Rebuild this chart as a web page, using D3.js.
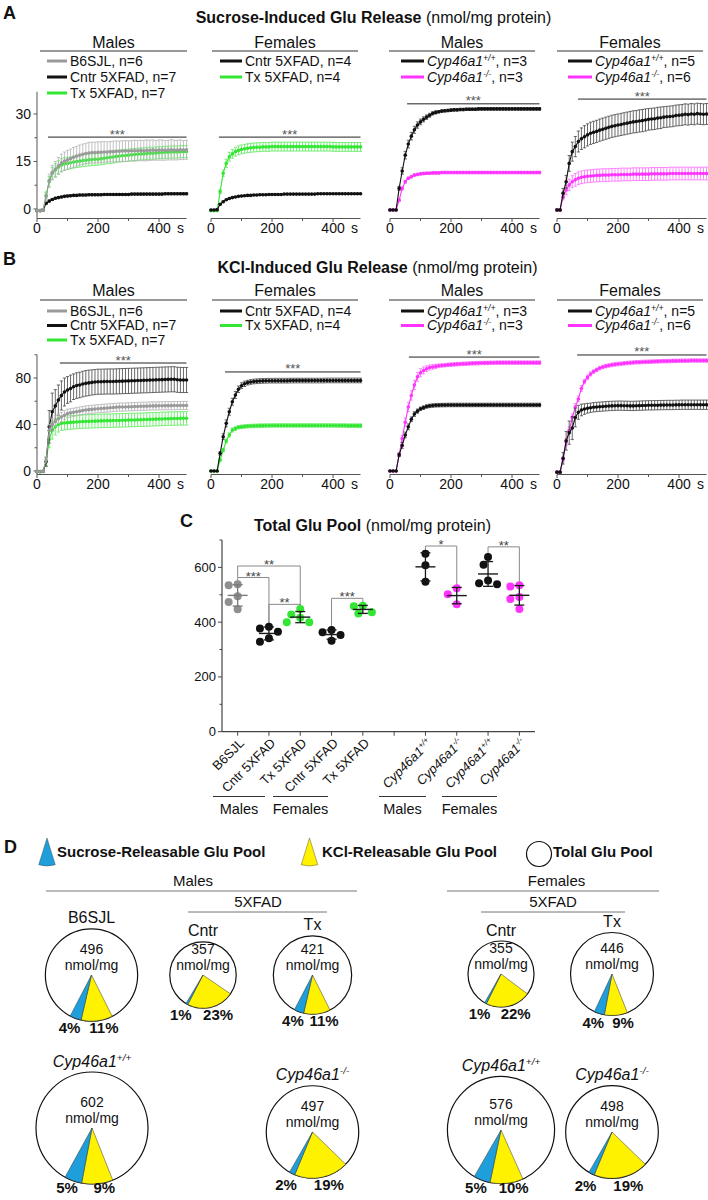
<!DOCTYPE html>
<html>
<head>
<meta charset="utf-8">
<script src="https://cdn.jsdelivr.net/npm/d3@7/dist/d3.min.js"></script>
<style>
html,body{margin:0;padding:0;background:#fff;}
svg{display:block;font-family:"Liberation Sans",Arial,sans-serif;}
</style>
</head>
<body>
<svg id="fig" width="708" height="1200"></svg>
<script>
// ================= DATA =================
const times = [0,10,20,30,40,50,60,70,80,90,
 100,110,120,130,140,150,160,170,180,190,
 200,210,220,230,240,250,260,270,280,290,
 300,310,320,330,340,350,360,370,380,390,
 400,410,420,430,440,450,460,470,480,490];

const xTicksMajor = [0,200,400];
const xTicksMinor = [100,300];

// ---- Panel A: Sucrose-induced release ----
const aYTicks = [0,15,30];
const aYMinor = [7.5,22.5];
const aM_B6 = [-0.5,-0.5,-0.3,4.0,9.0,11.5,12.5,13.6,14.5,15.1,
 15.5,15.9,16.3,16.7,17.0,17.3,17.5,17.7,17.8,17.8,
 17.9,17.9,18.0,18.0,18.1,18.1,18.2,18.2,18.3,18.3,
 18.3,18.4,18.4,18.4,18.5,18.4,18.5,18.5,18.6,18.5,
 18.6,18.6,18.5,18.6,18.7,18.6,18.6,18.7,18.6,18.7];
const aM_B6e = [0.3,0.3,0.4,1.2,2.0,2.3,2.5,2.7,2.8,2.9,
 3.0,3.0,3.1,3.1,3.2,3.2,3.2,3.3,3.3,3.3,
 3.3,3.3,3.3,3.2,3.2,3.3,3.3,3.2,3.2,3.3,
 3.2,3.2,3.3,3.2,3.2,3.2,3.3,3.2,3.2,3.1,
 3.2,3.2,3.1,3.1,3.2,3.1,3.1,3.1,3.0,3.0];
const aM_Cntr = [-0.5,-0.5,-0.3,1.8,2.5,3.0,3.4,3.6,3.8,4.0,
 4.1,4.2,4.3,4.3,4.4,4.4,4.4,4.5,4.5,4.5,
 4.5,4.5,4.6,4.6,4.6,4.6,4.6,4.6,4.6,4.6,
 4.6,4.7,4.7,4.7,4.7,4.7,4.7,4.7,4.7,4.7,
 4.7,4.7,4.8,4.8,4.8,4.8,4.8,4.8,4.8,4.8];
const aM_Cntre = [0.2,0.2,0.2,0.3,0.3,0.3,0.3,0.3,0.3,0.3,
 0.3,0.3,0.3,0.3,0.3,0.3,0.3,0.3,0.3,0.3,
 0.3,0.3,0.3,0.3,0.3,0.3,0.3,0.3,0.3,0.3,
 0.3,0.3,0.3,0.3,0.3,0.3,0.3,0.3,0.3,0.3,
 0.3,0.3,0.3,0.3,0.3,0.3,0.3,0.3,0.3,0.3];
const aM_Tx = [-0.5,-0.5,-0.3,4.4,8.6,11.3,12.3,13.2,13.9,14.2,
 14.4,14.6,14.8,15.0,15.1,15.3,15.4,15.5,15.6,15.7,
 15.7,15.9,16.0,16.2,16.3,16.4,16.6,16.7,16.8,16.9,
 17.0,17.1,17.2,17.3,17.4,17.4,17.5,17.6,17.6,17.7,
 17.8,17.8,17.9,17.9,18.0,18.0,18.0,18.1,18.1,18.1];
const aM_Txe = [0.3,0.3,0.4,1.0,1.6,1.9,2.0,2.0,2.0,2.0,
 1.9,1.9,1.9,1.9,1.9,1.9,1.9,1.9,1.9,1.9,
 1.9,1.9,1.9,1.9,1.9,1.9,1.9,1.9,1.9,1.9,
 1.9,1.9,1.9,1.9,1.9,1.9,1.9,1.9,1.9,1.9,
 1.9,1.9,1.9,1.9,1.9,1.9,1.9,1.9,1.9,1.9];
const aF_Cntr = [-0.3,-0.3,-0.2,1.5,2.3,2.9,3.3,3.6,3.8,4.0,
 4.1,4.2,4.3,4.3,4.4,4.4,4.5,4.5,4.5,4.6,
 4.6,4.6,4.6,4.6,4.7,4.7,4.7,4.7,4.7,4.7,
 4.7,4.7,4.7,4.7,4.7,4.8,4.8,4.8,4.8,4.8,
 4.8,4.8,4.8,4.8,4.8,4.8,4.8,4.8,4.8,4.8];
const aF_Cntre = [0.2,0.2,0.2,0.2,0.2,0.2,0.2,0.2,0.2,0.2,
 0.2,0.2,0.2,0.2,0.2,0.2,0.2,0.2,0.2,0.2,
 0.2,0.2,0.2,0.2,0.2,0.2,0.2,0.2,0.2,0.2,
 0.2,0.2,0.2,0.2,0.2,0.2,0.2,0.2,0.2,0.2,
 0.2,0.2,0.2,0.2,0.2,0.2,0.2,0.2,0.2,0.2];
const aF_Tx = [-0.5,-0.5,-0.5,5.5,11.3,14.4,16.5,17.4,18.1,18.5,
 18.8,19.0,19.2,19.3,19.4,19.5,19.5,19.6,19.6,19.6,
 19.7,19.7,19.7,19.7,19.7,19.7,19.7,19.7,19.7,19.7,
 19.7,19.7,19.7,19.7,19.7,19.7,19.7,19.7,19.7,19.7,
 19.6,19.6,19.6,19.6,19.6,19.6,19.6,19.6,19.6,19.6];
const aF_Txe = [0.2,0.2,0.2,0.6,1.0,1.3,1.4,1.4,1.4,1.4,
 1.4,1.4,1.4,1.4,1.4,1.4,1.4,1.4,1.4,1.4,
 1.4,1.4,1.4,1.4,1.4,1.4,1.4,1.4,1.4,1.4,
 1.4,1.4,1.4,1.4,1.4,1.4,1.4,1.4,1.4,1.4,
 1.4,1.4,1.4,1.4,1.4,1.4,1.4,1.4,1.4,1.4];
const aM_WT = [-0.3,-0.3,-0.3,6.5,12.0,17.0,20.5,23.0,25.0,26.5,
 27.5,28.3,29.0,29.6,30.2,30.5,30.7,30.9,31.0,31.1,
 31.2,31.3,31.3,31.4,31.4,31.5,31.5,31.5,31.5,31.6,
 31.6,31.6,31.6,31.6,31.6,31.6,31.6,31.6,31.6,31.6,
 31.6,31.6,31.6,31.6,31.6,31.6,31.6,31.6,31.6,31.6];
const aM_WTe = [0.2,0.2,0.2,0.6,1.0,1.2,1.2,1.2,1.1,1.0,
 0.9,0.8,0.7,0.6,0.5,0.5,0.4,0.4,0.4,0.4,
 0.4,0.4,0.4,0.4,0.4,0.4,0.4,0.4,0.4,0.4,
 0.4,0.4,0.4,0.4,0.4,0.4,0.4,0.4,0.4,0.4,
 0.4,0.4,0.4,0.4,0.4,0.4,0.4,0.4,0.4,0.4];
const aM_KO = [-0.3,-0.3,-0.3,2.8,6.5,8.6,9.7,10.2,10.7,10.9,
 11.1,11.2,11.3,11.3,11.4,11.4,11.4,11.5,11.5,11.5,
 11.5,11.5,11.5,11.5,11.5,11.5,11.5,11.5,11.5,11.5,
 11.5,11.5,11.5,11.5,11.5,11.5,11.5,11.5,11.5,11.5,
 11.5,11.5,11.5,11.5,11.5,11.5,11.5,11.5,11.5,11.5];
const aM_KOe = [0.2,0.2,0.2,0.4,0.5,0.5,0.4,0.4,0.4,0.4,
 0.4,0.4,0.4,0.4,0.4,0.4,0.4,0.4,0.4,0.4,
 0.4,0.4,0.4,0.4,0.4,0.4,0.4,0.4,0.4,0.4,
 0.4,0.4,0.4,0.4,0.4,0.4,0.4,0.4,0.4,0.4,
 0.4,0.4,0.4,0.4,0.4,0.4,0.4,0.4,0.4,0.4];
const aF_WT = [-0.3,-0.3,5.0,8.6,14.4,18.1,19.7,21.3,22.2,22.8,
 23.4,23.9,24.2,24.5,24.9,25.2,25.5,25.8,26.1,26.3,
 26.5,26.7,26.9,27.1,27.3,27.5,27.6,27.8,27.9,28.1,
 28.3,28.4,28.5,28.7,28.8,29.0,29.1,29.2,29.3,29.5,
 29.6,29.7,29.9,29.8,30.0,29.9,30.1,30.0,29.9,30.0];
const aF_WTe = [0.3,0.3,1.5,2.0,2.5,3.0,3.2,3.3,3.4,3.5,
 3.5,3.5,3.5,3.5,3.5,3.5,3.5,3.5,3.5,3.5,
 3.5,3.5,3.5,3.5,3.5,3.5,3.5,3.5,3.5,3.5,
 3.4,3.4,3.4,3.4,3.4,3.3,3.3,3.3,3.3,3.3,
 3.3,3.3,3.3,3.3,3.3,3.3,3.3,3.3,3.3,3.3];
const aF_KO = [-0.3,-0.3,3.9,6.0,7.6,8.6,9.2,9.7,10.0,10.2,
 10.3,10.4,10.5,10.6,10.6,10.7,10.7,10.7,10.8,10.8,
 10.8,10.9,10.9,10.9,10.9,11.0,11.0,11.0,11.0,11.0,
 11.0,11.1,11.1,11.1,11.1,11.1,11.1,11.2,11.2,11.2,
 11.2,11.2,11.2,11.2,11.2,11.2,11.2,11.2,11.2,11.2];
const aF_KOe = [0.3,0.3,1.0,1.5,1.8,1.9,2.0,2.0,2.0,2.0,
 2.0,2.0,2.0,2.0,2.0,2.0,2.0,2.0,2.0,2.0,
 2.0,2.0,2.0,2.0,2.0,2.0,2.0,2.0,2.0,2.0,
 2.0,2.0,2.0,2.0,2.0,2.0,2.0,2.0,2.0,2.0,
 2.0,2.0,2.0,2.0,2.0,2.0,2.0,2.0,2.0,2.0];

// ---- Panel B: KCl-induced release ----
const bYTicks = [0,40,80];
const bYMinor = [20,60,100];
const bM_B6 = [-0.5,-0.5,-0.3,9.5,35.0,40.0,43.0,45.0,46.5,48.0,
 49.5,50.0,50.5,51.0,51.5,52.0,52.5,52.8,53.0,53.3,
 53.6,53.8,54.0,54.2,54.4,54.6,54.8,55.0,55.0,55.1,
 55.2,55.3,55.4,55.5,55.6,55.7,55.8,55.9,56.0,56.0,
 56.1,56.1,56.2,56.2,56.2,56.3,56.3,56.3,56.4,56.4];
const bM_B6e = [0.3,0.3,0.4,2.0,5.0,5.0,4.5,4.2,4.0,3.8,
 3.7,3.6,3.5,3.5,3.5,3.5,3.5,3.5,3.5,3.5,
 3.5,3.5,3.5,3.5,3.5,3.5,3.5,3.5,3.5,3.5,
 3.5,3.5,3.5,3.5,3.5,3.5,3.5,3.5,3.5,3.5,
 3.5,3.5,3.5,3.5,3.5,3.5,3.5,3.5,3.5,3.5];
const bM_Cntr = [-0.5,-0.5,-0.3,8.0,38.0,51.0,56.0,61.0,65.0,68.0,
 69.7,71.0,72.5,73.5,74.0,74.8,75.4,75.8,76.2,76.5,
 76.8,76.8,76.9,77.0,77.0,77.0,77.1,77.2,77.3,77.4,
 77.5,77.6,77.7,77.8,77.9,78.0,78.1,78.2,78.3,78.4,
 78.5,78.6,78.7,78.8,78.9,78.9,78.5,78.3,78.3,78.3];
const bM_Cntre = [0.3,0.3,0.5,4.0,14.0,16.0,14.0,13.0,12.5,12.0,
 11.5,11.5,11.0,11.0,11.0,11.0,11.0,11.0,10.8,10.8,
 10.8,10.8,10.8,10.8,10.8,10.8,10.8,10.8,10.8,10.8,
 10.8,10.8,10.8,10.8,10.8,10.8,10.8,10.8,10.8,10.8,
 10.8,10.8,10.8,10.8,10.8,10.8,10.8,10.8,10.8,10.8];
const bM_Tx = [-0.5,-0.5,-0.3,8.0,27.0,35.0,38.0,40.0,41.0,41.3,
 41.6,41.8,42.0,42.2,42.4,42.5,42.6,42.7,42.8,42.9,
 43.0,43.1,43.2,43.3,43.3,43.4,43.5,43.5,43.6,43.7,
 43.8,43.9,43.9,44.0,44.1,44.2,44.3,44.4,44.5,44.6,
 44.7,44.8,44.9,45.0,45.1,45.2,45.2,45.3,45.3,45.3];
const bM_Txe = [0.3,0.3,0.4,3.0,7.0,7.5,7.0,6.5,6.0,6.0,
 5.8,5.8,5.8,5.8,5.8,5.8,5.8,5.8,5.8,5.8,
 5.8,5.8,5.8,5.8,5.8,5.8,5.8,5.8,5.8,5.8,
 5.8,5.8,5.8,5.8,5.8,5.8,5.8,5.8,5.8,5.8,
 5.8,5.8,5.8,5.8,5.8,5.8,5.8,5.8,5.8,5.8];
const bF_Cntr = [0,0,0,15.2,29.5,41.0,51.0,59.6,65.4,70.3,
 73.4,75.0,76.0,76.6,77.0,77.2,77.4,77.5,77.6,77.7,
 77.7,77.7,77.7,77.7,77.7,77.7,77.8,77.8,77.8,77.8,
 77.8,77.8,77.8,77.8,77.8,77.8,77.8,77.8,77.9,77.9,
 77.9,77.9,77.9,77.9,77.9,77.9,77.9,77.9,77.9,77.9];
const bF_Cntre = [0.3,0.3,0.3,1.5,2.5,3.0,3.0,3.0,3.0,2.8,
 2.5,2.3,2.0,2.0,2.0,2.0,2.0,2.0,2.0,2.0,
 2.0,2.0,2.0,2.0,2.0,2.0,2.0,2.0,2.0,2.0,
 2.0,2.0,2.0,2.0,2.0,2.0,2.0,2.0,2.0,2.0,
 2.0,2.0,2.0,2.0,2.0,2.0,2.0,2.0,2.0,2.0];
const bF_Tx = [0,0,0,9.5,18.0,25.8,31.0,35.3,36.5,37.6,
 38.0,38.3,38.5,38.7,38.8,38.9,39.0,39.0,39.1,39.1,
 39.2,39.2,39.2,39.2,39.2,39.2,39.2,39.2,39.2,39.2,
 39.2,39.2,39.2,39.2,39.2,39.2,39.2,39.2,39.2,39.2,
 39.2,39.2,39.1,39.1,39.1,39.0,39.0,39.0,39.0,39.0];
const bF_Txe = [0.3,0.3,0.3,1.0,1.5,1.8,1.8,1.8,1.6,1.5,
 1.5,1.5,1.5,1.5,1.5,1.5,1.5,1.5,1.5,1.5,
 1.5,1.5,1.5,1.5,1.5,1.5,1.5,1.5,1.5,1.5,
 1.5,1.5,1.5,1.5,1.5,1.5,1.5,1.5,1.5,1.5,
 1.5,1.5,1.5,1.5,1.5,1.5,1.5,1.5,1.5,1.5];
const bM_WT = [0,0,0,14.0,22.0,31.0,38.0,44.5,49.0,51.5,
 53.5,54.5,55.5,56.0,56.3,56.5,56.6,56.7,56.7,56.8,
 56.8,56.8,56.8,56.8,56.8,56.8,56.8,56.8,56.8,56.8,
 56.8,56.8,56.8,56.8,56.8,56.8,56.8,56.8,56.8,56.8,
 56.8,56.8,56.8,56.8,56.8,56.8,56.8,56.8,56.8,56.8];
const bM_WTe = [0.3,0.3,0.3,1.5,2.5,2.5,2.5,2.0,2.0,1.8,
 1.5,1.5,1.5,1.5,1.5,1.5,1.5,1.5,1.5,1.5,
 1.5,1.5,1.5,1.5,1.5,1.5,1.5,1.5,1.5,1.5,
 1.5,1.5,1.5,1.5,1.5,1.5,1.5,1.5,1.5,1.5,
 1.5,1.5,1.5,1.5,1.5,1.5,1.5,1.5,1.5,1.5];
const bM_KO = [0,0,0,14.0,28.0,42.0,55.0,65.0,74.0,81.0,
 84.5,86.5,88.0,89.0,89.5,90.0,90.5,90.8,91.0,91.3,
 91.5,91.7,91.9,92.0,92.2,92.3,92.5,92.6,92.7,92.8,
 92.9,93.0,93.0,93.1,93.1,93.2,93.2,93.2,93.2,93.2,
 93.2,93.2,93.2,93.2,93.2,93.2,93.2,93.2,93.2,93.2];
const bM_KOe = [0.3,0.3,0.3,1.5,2.5,3.5,4.0,4.0,4.0,3.8,
 3.5,3.0,2.5,2.2,2.0,1.8,1.6,1.5,1.5,1.5,
 1.5,1.5,1.5,1.5,1.5,1.5,1.5,1.5,1.5,1.5,
 1.5,1.5,1.5,1.5,1.5,1.5,1.5,1.5,1.5,1.5,
 1.5,1.5,1.5,1.5,1.5,1.5,1.5,1.5,1.5,1.5];
const bF_WT = [-1,-1,11.0,26.0,33.0,37.0,46.0,50.5,52.5,53.3,
 54.0,54.4,54.8,55.1,55.3,55.5,55.7,55.9,56.0,56.1,
 56.2,56.2,56.1,56.1,56.0,56.0,56.1,56.2,56.3,56.4,
 56.5,56.5,56.6,56.6,56.7,56.7,56.8,56.8,56.8,56.9,
 56.9,57.0,57.0,57.0,57.0,57.0,57.0,57.0,57.0,57.0];
const bF_WTe = [0.5,0.5,5.0,8.0,10.0,10.0,8.0,6.0,5.0,4.5,
 4.2,4.0,4.0,4.0,4.0,4.0,4.0,4.0,4.0,4.0,
 4.0,4.0,4.0,4.0,4.0,4.0,4.0,4.0,4.0,4.0,
 4.0,4.0,4.0,4.0,4.0,4.0,4.0,4.0,4.0,4.0,
 4.0,4.0,4.0,4.0,4.0,4.0,4.0,4.0,4.0,4.0];
const bF_KO = [-1,-1,10.0,25.0,35.0,46.0,55.0,62.0,71.0,77.0,
 80.5,83.5,85.5,87.0,88.5,89.5,90.2,90.8,91.3,91.7,
 92.0,92.3,92.6,92.9,93.1,93.3,93.5,93.6,93.8,93.9,
 94.0,94.1,94.2,94.3,94.4,94.5,94.5,94.6,94.7,94.7,
 94.8,94.8,94.9,94.9,95.0,95.0,95.0,95.0,95.0,95.0];
const bF_KOe = [0.5,0.5,2.0,3.0,3.0,3.0,3.0,2.5,2.5,2.0,
 2.0,1.8,1.5,1.5,1.5,1.5,1.5,1.5,1.5,1.5,
 1.5,1.5,1.5,1.5,1.5,1.5,1.5,1.5,1.5,1.5,
 1.5,1.5,1.5,1.5,1.5,1.5,1.5,1.5,1.5,1.5,
 1.5,1.5,1.5,1.5,1.5,1.5,1.5,1.5,1.5,1.5];

// significance bars (start time, level in data units)
const aSigStart = [36, 26, 56, 69];
const aSigLevel = [22.7, 22.7, 33.2, 34.7];
const bSigStart = [75, 46, 62, 66];
const bSigLevel = [92.9, 85.2, 98.0, 99.8];

// ---- Panel C: total Glu pool ----
const cCategories = ["B6SJL","Cntr 5XFAD","Tx 5XFAD","Cntr 5XFAD","Tx 5XFAD","","Cyp46a1+/+","Cyp46a1-/-","Cyp46a1+/+","Cyp46a1-/-"];
const cValues = [
 [538,535,495,474,447],
 [383,377,365,328,341],
 [416,428,448,400,400],
 [353,363,371,332],
 [458,460,432,436],
 [],
 [608,650,548],
 [524,502,465],
 [610,638,552,542,538],
 [535,530,485,492,448]];
const cYTicks = [0,200,400,600];
const cYMinor = [100,300,500,700];
const cSigFrom = [0,0,1,3,6,8];
const cSigTo = [1,2,2,4,7,9];
const cSigTop = [563,605,465,487,678,675];
const cSigLeftEnd = [533,565,389,371,657,645];
const cSigRightEnd = [397,459,448,470,529,543];
const cSigLabel = ["***","**","**","***","*","**"];
const cGroupLabels = ["Males","Females","Males","Females"];

// ---- Panel D: pools ----
const pieLabels = ["B6SJL","Cntr","Tx","Cntr","Tx","Cyp46a1+/+","Cyp46a1-/-","Cyp46a1+/+","Cyp46a1-/-"];
const pieTotals = [496,357,421,355,446,602,497,576,498];
const pieSucrosePct = [4,1,4,1,4,5,2,5,2];
const pieKClPct = [11,23,11,22,9,9,19,10,19];

// ================= STYLE / LAYOUT =================
const COL = {gray:"#9a9a9a", black:"#111111", green:"#33e633", magenta:"#ff33ff"};
const ECOL = {gray:"#b4b4b4", black:"#444444", green:"#5bea5b", magenta:"#ff6bff"};
const DOTCOL = {gray:"#8f8f8f", black:"#111111", green:"#33e633", magenta:"#ff33ff"};
const cColorKeys = ["gray","black","green","black","green",null,"black","magenta","black","magenta"];

const svg = d3.select("#fig");

function rich(t, label, fs) {
  const m = label.match(/^(Cyp46a1)([+\-]\/[+\-])(.*)$/);
  if (!m) { t.text(label); return; }
  t.append("tspan").attr("font-style","italic").text(m[1]);
  t.append("tspan").attr("font-style","italic").attr("font-size", fs*0.62).attr("dy", -fs*0.38).text(m[2]);
  if (m[3]) t.append("tspan").attr("dy", fs*0.38).text(m[3]);
}
function text(x, y, str, opts) {
  opts = opts || {};
  const fs = opts.fs || 14;
  const t = svg.append("text").attr("x", x).attr("y", y + fs*0.35)
    .attr("font-size", fs).attr("text-anchor", opts.anchor || "middle")
    .attr("fill", opts.fill || "#111");
  if (opts.bold) t.attr("font-weight","bold");
  rich(t, str, fs);
  return t;
}
function hline(x1, x2, y, color, w) {
  svg.append("line").attr("x1",x1).attr("x2",x2).attr("y1",y).attr("y2",y)
    .attr("stroke", color || "#222").attr("stroke-width", w || 1);
}
function title(cx, cy, bold, normal) {
  const t = svg.append("text").attr("x", cx).attr("y", cy + 5.6).attr("text-anchor","middle")
    .attr("font-size", 16).attr("fill","#111");
  t.append("tspan").attr("font-weight","bold").text(bold);
  t.append("tspan").text(normal);
}

// panel letters
text(3, 12.5, "A", {fs:18, bold:true, anchor:"start"});
text(3, 259, "B", {fs:18, bold:true, anchor:"start"});
text(180, 521, "C", {fs:18, bold:true, anchor:"start"});
text(4, 847, "D", {fs:18, bold:true, anchor:"start"});

// ========== time-course panels ==========
const subX0 = [37, 211, 390, 557];
const subW = 149.5;
const headerX1 = [40, 212, 389, 557];
const headerX2 = [187, 358, 535, 703];
const headerText = ["Males","Females","Males","Females"];
const legLineX = [[47,67],[220,242],[401,424],[568,592]];
const legTextX = [70, 245, 427, 595];

function drawTimePanel(cfg) {
  title(cfg.titleX, cfg.titleY, cfg.titleBold, cfg.titleNormal);
  const y = d3.scaleLinear().domain(cfg.yDomain).range(cfg.yRange);
  const axY = cfg.yRange[0];
  cfg.subs.forEach((sub, i) => {
    const x0 = subX0[i];
    const x = d3.scaleLinear().domain([0, 490]).range([x0, x0 + subW]);
    text((headerX1[i]+headerX2[i])/2, cfg.headerY, headerText[i], {fs:16});
    hline(headerX1[i], headerX2[i], cfg.ulY, "#333", 1.1);
    sub.series.forEach((s, j) => {
      const ly = cfg.legY[j];
      svg.append("line").attr("x1", legLineX[i][0]).attr("x2", legLineX[i][1])
        .attr("y1", ly).attr("y2", ly).attr("stroke", COL[s.color]).attr("stroke-width", 3);
      text(legTextX[i], ly, s.label, {fs:14, anchor:"start"});
    });
    const gx = svg.append("g").attr("transform", `translate(0,${axY})`);
    gx.append("line").attr("x1", x0).attr("x2", x0 + subW).attr("stroke","#555").attr("stroke-width",1);
    xTicksMajor.forEach(v => {
      gx.append("line").attr("x1", x(v)).attr("x2", x(v)).attr("y1",0).attr("y2",3.5).attr("stroke","#555");
      gx.append("text").attr("x", x(v)).attr("y", 14.5).attr("text-anchor","middle").attr("font-size",14).attr("fill","#111").text(v);
    });
    xTicksMinor.forEach(v => {
      gx.append("line").attr("x1", x(v)).attr("x2", x(v)).attr("y1",0).attr("y2",2.5).attr("stroke","#555");
    });
    gx.append("text").attr("x", x0 + 143.5).attr("y", 14.5).attr("text-anchor","middle").attr("font-size",14).attr("fill","#111").text("s");
    if (i === 0) {
      const gy = svg.append("g");
      gy.append("line").attr("x1", x0).attr("x2", x0).attr("y1", cfg.yRange[0]).attr("y2", cfg.yRange[1]).attr("stroke","#555");
      cfg.yTicks.forEach(v => {
        gy.append("line").attr("x1", x0-3.5).attr("x2", x0).attr("y1", y(v)).attr("y2", y(v)).attr("stroke","#555");
        gy.append("text").attr("x", x0-6).attr("y", y(v)+5).attr("text-anchor","end").attr("font-size",14).attr("fill","#111").text(v);
      });
      cfg.yMinor.forEach(v => {
        gy.append("line").attr("x1", x0-2.5).attr("x2", x0).attr("y1", y(v)).attr("y2", y(v)).attr("stroke","#555");
      });
    }
    const sy = y(cfg.sigLevel[i]);
    hline(x(cfg.sigStart[i]), x0 + subW, sy, "#222", 1);
    svg.append("text").attr("x", (x(cfg.sigStart[i]) + x0 + subW)/2).attr("y", sy + 1.5)
      .attr("text-anchor","middle").attr("font-size",13).attr("fill","#555").text("***");
    sub.series.slice().reverse().forEach(s => {
      const g = svg.append("g");
      const ec = ECOL[s.color];
      s.vals.forEach((v, k) => {
        const e = s.errs[k];
        const xx = x(times[k]);
        g.append("line").attr("x1",xx).attr("x2",xx).attr("y1",y(v-e)).attr("y2",y(v+e)).attr("stroke",ec).attr("stroke-width",0.8);
        g.append("line").attr("x1",xx-1.6).attr("x2",xx+1.6).attr("y1",y(v+e)).attr("y2",y(v+e)).attr("stroke",ec).attr("stroke-width",0.8);
        g.append("line").attr("x1",xx-1.6).attr("x2",xx+1.6).attr("y1",y(v-e)).attr("y2",y(v-e)).attr("stroke",ec).attr("stroke-width",0.8);
      });
      g.append("path").datum(s.vals)
        .attr("d", d3.line().x((d,k) => x(times[k])).y(d => y(d)))
        .attr("fill","none").attr("stroke", COL[s.color]).attr("stroke-width", 1.1);
      g.selectAll("circle").data(s.vals).join("circle")
        .attr("cx", (d,k) => x(times[k])).attr("cy", d => y(d)).attr("r", 1.8)
        .attr("fill", COL[s.color]);
    });
  });
}

drawTimePanel({
  titleX: 373.5, titleY: 17.5, titleBold: "Sucrose-Induced Glu Release", titleNormal: " (nmol/mg protein)",
  headerY: 42, ulY: 51, legY: [61, 77, 93],
  yDomain: [-3, 37], yRange: [218.5, 91.8], yTicks: aYTicks, yMinor: aYMinor,
  sigStart: aSigStart, sigLevel: aSigLevel,
  subs: [
    {series: [
      {label:"B6SJL, n=6", vals:aM_B6, errs:aM_B6e, color:"gray"},
      {label:"Cntr 5XFAD, n=7", vals:aM_Cntr, errs:aM_Cntre, color:"black"},
      {label:"Tx 5XFAD, n=7", vals:aM_Tx, errs:aM_Txe, color:"green"}]},
    {series: [
      {label:"Cntr 5XFAD, n=4", vals:aF_Cntr, errs:aF_Cntre, color:"black"},
      {label:"Tx 5XFAD, n=4", vals:aF_Tx, errs:aF_Txe, color:"green"}]},
    {series: [
      {label:"Cyp46a1+/+, n=3", vals:aM_WT, errs:aM_WTe, color:"black"},
      {label:"Cyp46a1-/-, n=3", vals:aM_KO, errs:aM_KOe, color:"magenta"}]},
    {series: [
      {label:"Cyp46a1+/+, n=5", vals:aF_WT, errs:aF_WTe, color:"black"},
      {label:"Cyp46a1-/-, n=6", vals:aF_KO, errs:aF_KOe, color:"magenta"}]}
  ]
});

drawTimePanel({
  titleX: 377.5, titleY: 267, titleBold: "KCl-Induced Glu Release", titleNormal: " (nmol/mg protein)",
  headerY: 290, ulY: 300, legY: [311, 325.5, 340],
  yDomain: [-3, 100], yRange: [474.5, 354.75], yTicks: bYTicks, yMinor: bYMinor,
  sigStart: bSigStart, sigLevel: bSigLevel,
  subs: [
    {series: [
      {label:"B6SJL, n=6", vals:bM_B6, errs:bM_B6e, color:"gray"},
      {label:"Cntr 5XFAD, n=7", vals:bM_Cntr, errs:bM_Cntre, color:"black"},
      {label:"Tx 5XFAD, n=7", vals:bM_Tx, errs:bM_Txe, color:"green"}]},
    {series: [
      {label:"Cntr 5XFAD, n=4", vals:bF_Cntr, errs:bF_Cntre, color:"black"},
      {label:"Tx 5XFAD, n=4", vals:bF_Tx, errs:bF_Txe, color:"green"}]},
    {series: [
      {label:"Cyp46a1+/+, n=3", vals:bM_WT, errs:bM_WTe, color:"black"},
      {label:"Cyp46a1-/-, n=3", vals:bM_KO, errs:bM_KOe, color:"magenta"}]},
    {series: [
      {label:"Cyp46a1+/+, n=5", vals:bF_WT, errs:bF_WTe, color:"black"},
      {label:"Cyp46a1-/-, n=6", vals:bF_KO, errs:bF_KOe, color:"magenta"}]}
  ]
});

// ========== Panel C ==========
(function(){
  title(372.5, 525, "Total Glu Pool", " (nmol/mg protein)");
  const x = d3.scalePoint().domain(cCategories.map((d,i)=>i)).range([222, 535]).padding(0.5);
  const y = d3.scaleLinear().domain([0, 700]).range([731.7, 540]);
  const ax = "#444";
  svg.append("line").attr("x1",222).attr("x2",222).attr("y1",y(0)).attr("y2",y(700)).attr("stroke",ax).attr("stroke-width",1.2);
  svg.append("line").attr("x1",222).attr("x2",535).attr("y1",y(0)).attr("y2",y(0)).attr("stroke",ax).attr("stroke-width",1.2);
  cYTicks.forEach(v => {
    svg.append("line").attr("x1",218).attr("x2",222).attr("y1",y(v)).attr("y2",y(v)).attr("stroke",ax);
    svg.append("text").attr("x",216).attr("y",y(v)+4.5).attr("text-anchor","end").attr("font-size",13).attr("fill","#111").text(v);
  });
  cYMinor.forEach(v => {
    svg.append("line").attr("x1",219.5).attr("x2",222).attr("y1",y(v)).attr("y2",y(v)).attr("stroke",ax);
  });
  cCategories.forEach((c, i) => {
    const xx = x(i);
    svg.append("line").attr("x1",xx).attr("x2",xx).attr("y1",y(0)).attr("y2",y(0)+4).attr("stroke",ax);
    if (!c) return;
    const t = svg.append("text").attr("transform",`translate(${xx+4},${y(0)+9}) rotate(-45)`)
      .attr("text-anchor","end").attr("font-size",13).attr("fill","#111").attr("dy","0.35em");
    rich(t, c, 13);
  });
  const gx1 = [213, 273, 379, 442], gx2 = [265, 328, 426, 497];
  cGroupLabels.forEach((g, i) => {
    hline(gx1[i], gx2[i], 796.5, "#333", 1);
    text((gx1[i]+gx2[i])/2, 808.5, g, {fs:14.5});
  });
  cSigLabel.forEach((lab, i) => {
    const xa = x(cSigFrom[i]), xb = x(cSigTo[i]), yt = y(cSigTop[i]);
    svg.append("path").attr("d", `M${xa},${y(cSigLeftEnd[i])}V${yt}H${xb}V${y(cSigRightEnd[i])}`)
      .attr("fill","none").attr("stroke","#8a8a8a").attr("stroke-width",1);
    svg.append("text").attr("x",(xa+xb)/2).attr("y", yt+3).attr("text-anchor","middle")
      .attr("font-size",13).attr("fill","#444").text(lab);
  });
  const R = 4;
  cValues.forEach((vals, i) => {
    if (!vals.length) return;
    const cx = x(i);
    const key = cColorKeys[i];
    const m = d3.mean(vals), sd = d3.deviation(vals);
    const wc = key === "gray" ? "#7a7a7a" : "#1a1a1a";
    const order = vals.map((v,k)=>k).sort((a,b)=>vals[b]-vals[a]);
    const placed = [];
    const pos = [];
    const offs = [0,-1,1,-2,2,-3,3];
    order.forEach(k => {
      const yy = y(vals[k]);
      for (const o of offs) {
        const xx = cx + o*4.5;
        if (placed.every(p => Math.hypot(p[0]-xx, p[1]-yy) >= 2*R+0.3)) { placed.push([xx,yy]); pos[k]=[xx,yy]; break; }
      }
      if (!pos[k]) { pos[k] = [cx, yy]; }
    });
    svg.append("g").selectAll("circle").data(pos).join("circle")
      .attr("cx", d=>d[0]).attr("cy", d=>d[1]).attr("r", R).attr("fill", DOTCOL[key]);
    svg.append("line").attr("x1",cx).attr("x2",cx).attr("y1",y(m-sd)).attr("y2",y(m+sd)).attr("stroke",wc).attr("stroke-width",1.3);
    [m-sd, m+sd].forEach(v => svg.append("line").attr("x1",cx-5).attr("x2",cx+5).attr("y1",y(v)).attr("y2",y(v)).attr("stroke",wc).attr("stroke-width",1.3));
    svg.append("line").attr("x1",cx-10).attr("x2",cx+10).attr("y1",y(m)).attr("y2",y(m)).attr("stroke",wc).attr("stroke-width",1.4);
  });
})();

// ========== Panel D ==========
(function(){
  const BLUE = "#1e9fdc", YEL = "#fff200";
  const cone = d3.arc().innerRadius(0).outerRadius(28).startAngle(Math.PI-0.3).endAngle(Math.PI+0.3);
  svg.append("path").attr("d", cone()).attr("transform","translate(47,838)").attr("fill",BLUE).attr("stroke","#333").attr("stroke-width",0.4);
  text(57, 852, "Sucrose-Releasable Glu Pool", {fs:15, bold:true, anchor:"start"});
  svg.append("path").attr("d", cone()).attr("transform","translate(309.5,838)").attr("fill",YEL).attr("stroke","#333").attr("stroke-width",0.4);
  text(322, 852, "KCl-Releasable Glu Pool", {fs:15, bold:true, anchor:"start"});
  svg.append("circle").attr("cx",539).attr("cy",854).attr("r",12.5).attr("fill","#fff").attr("stroke","#111").attr("stroke-width",1.2);
  text(553, 852, "Tolal Glu Pool", {fs:15, bold:true, anchor:"start"});

  text(193, 881, "Males", {fs:15});
  hline(46, 357, 891, "#777", 1);
  text(556.5, 881, "Females", {fs:15});
  hline(447, 659, 891, "#777", 1);
  text(258, 902, "5XFAD", {fs:15});
  hline(188, 327, 912, "#777", 1);
  text(553, 902, "5XFAD", {fs:15});
  hline(481, 625, 912, "#777", 1);

  const pieCx = [91.5, 203, 312.5, 501, 612, 92, 312.5, 501, 612];
  const pieCy = [975, 975, 975, 974, 974, 1128, 1132, 1130, 1132];
  const rScale = d3.scaleLinear().domain([0, 602]).range([0, 56]);
  pieTotals.forEach((tot, i) => {
    const cx = pieCx[i], cy = pieCy[i], r = rScale(tot);
    const Y = pieKClPct[i]/100*2*Math.PI, B = pieSucrosePct[i]/100*2*Math.PI;
    const g = svg.append("g").attr("transform", `translate(${cx},${cy})`);
    g.append("circle").attr("r", r).attr("fill","#fff").attr("stroke","#111").attr("stroke-width",1.2);
    const arc = d3.arc().innerRadius(0).outerRadius(r);
    const ys = Math.PI - 0.67*Y, ye = Math.PI + 0.33*Y, be = ye + B;
    g.append("path").attr("d", arc({startAngle: ys, endAngle: ye})).attr("fill", YEL).attr("stroke","#333").attr("stroke-width",0.5);
    g.append("path").attr("d", arc({startAngle: ye, endAngle: be})).attr("fill", BLUE).attr("stroke","#333").attr("stroke-width",0.5);
    text(cx, cy - 26, String(tot), {fs:14});
    text(cx, cy - 10, "nmol/mg", {fs:14});
    text(cx, cy - r - 11, pieLabels[i], {fs:16});
    const bm = (ye + be)/2, ym = (ys + ye)/2;
    const ly = Math.min(cy + r + 7, 1188);
    text(cx + r*Math.sin(bm) - 6, ly, pieSucrosePct[i] + "%", {fs:15, bold:true});
    text(cx + r*Math.sin(ym) + 7, ly, pieKClPct[i] + "%", {fs:15, bold:true});
  });
})();
</script>
</body>
</html>
